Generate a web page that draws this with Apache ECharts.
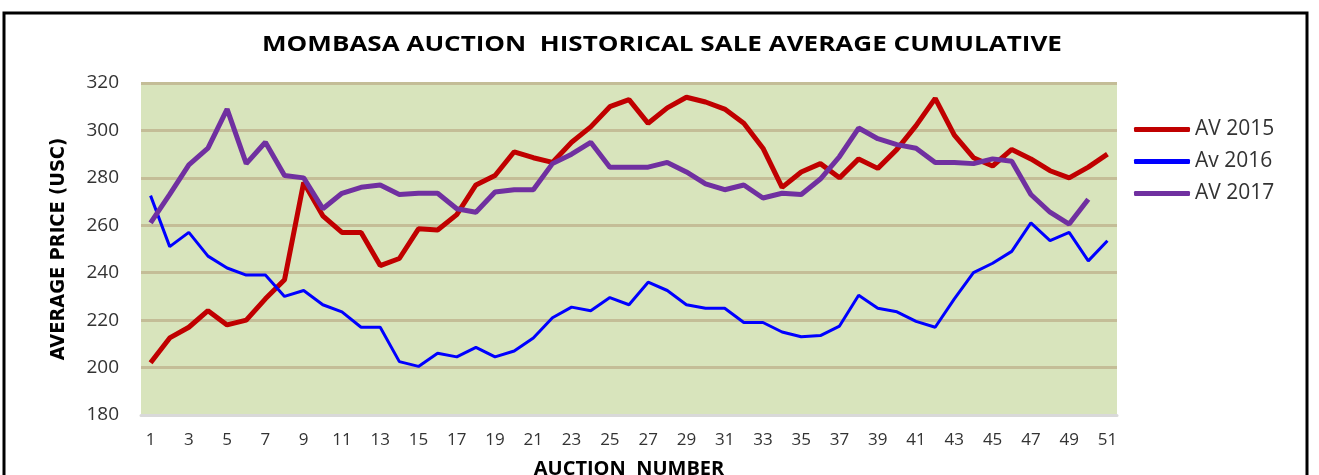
<!DOCTYPE html>
<html>
<head>
<meta charset="utf-8">
<script src="https://cdn.jsdelivr.net/npm/echarts@6/dist/echarts.min.js"></script>
<style>
  html, body { margin: 0; padding: 0; background: #fff; }
  #chart { width: 1319px; height: 475px; }
</style>
</head>
<body>
<div id="chart"></div>
<script>
// auction numbers 1..51
const auctions = ['1','2','3','4','5','6','7','8','9','10','11','12','13','14','15','16','17','18','19','20',
    '21','22','23','24','25','26','27','28','29','30','31','32','33','34','35','36','37','38','39','40',
    '41','42','43','44','45','46','47','48','49','50','51'];

const av2015 = [202, 212.5, 217, 224, 218, 220, 229, 237, 278, 264, 257, 257, 243, 246, 258.5, 258, 264.5, 277, 281, 291,
    288.5, 286.5, 295, 301.5, 310, 313, 303, 309.5, 314, 312, 309, 303, 292.5, 276, 282.5, 286, 280, 288, 284, 292,
    302, 313.5, 298, 288.5, 285, 292, 288, 283, 280, 284.5, 290];

const av2016 = [272.5, 251, 257, 247, 242, 239, 239, 230, 232.5, 226.5, 223.5, 217, 217, 202.5, 200.5, 206, 204.5, 208.5, 204.5, 207,
    212.5, 221, 225.5, 224, 229.5, 226.5, 236, 232.5, 226.5, 225, 225, 219, 219, 215, 213, 213.5, 217.5, 230.5, 225, 223.5,
    219.5, 217, 229, 240, 244, 249, 261, 253.5, 257, 245, 253.5];

const av2017 = [261, 273, 285.5, 292.5, 309, 286, 295, 281, 280, 267, 273.5, 276, 277, 273, 273.5, 273.5, 267, 265.5, 274, 275,
    275, 286, 290, 295, 284.5, 284.5, 284.5, 286.5, 282.5, 277.5, 275, 277, 271.5, 273.5, 273, 279.5, 289, 301, 296.5, 294,
    292.5, 286.5, 286.5, 286, 288, 287, 273, 265.5, 260.5, 271];

const yTicks = { min: 180, max: 320, step: 20 };

function renderGrafico() {
    const chartDom = document.getElementById('chart');
    const myChart = echarts.init(chartDom, null, { renderer: 'canvas' });
    const option = {
        backgroundColor: '#ffffff',
        animation: false,
        legend: {
            orient: 'vertical',
            left: 1129,
            top: 114,
            itemWidth: 56,
            itemHeight: 5,
            itemGap: 11,
            icon: 'roundRect',
            data: ['AV 2015', 'Av 2016', 'AV 2017'],
            textStyle: { fontFamily: 'Open Sans', fontSize: 21, color: '#333', padding: [0, 0, 0, 0] }
        },
        grid: {
            left: 141,
            right: 202,
            top: 83,
            bottom: 60,
            outerBoundsMode: 'none',
            show: true,
            backgroundColor: '#d8e4bc',
            borderWidth: 0
        },
        xAxis: {
            type: 'category',
            data: auctions,
            boundaryGap: true,
            name: 'AUCTION  NUMBER',
            nameLocation: 'middle',
            nameGap: 44,
            nameTextStyle: { fontFamily: 'Open Sans', fontWeight: 'bold', fontSize: 20, color: '#000' },
            axisLine: { lineStyle: { color: '#d9d9d9', width: 3 } },
            axisTick: { show: false },
            axisLabel: { interval: 1, margin: 17, fontFamily: 'Open Sans', fontSize: 17, color: '#333' },
            splitLine: { show: false }
        },
        yAxis: {
            type: 'value',
            min: yTicks.min,
            max: yTicks.max,
            interval: yTicks.step,
            name: 'AVERAGE PRICE (USC)',
            nameLocation: 'middle',
            nameGap: 72,
            nameTextStyle: { fontFamily: "'Liberation Sans Narrow', 'DejaVu Sans Condensed', 'Open Sans', sans-serif", fontWeight: 'bold', fontSize: 20, color: '#000' },
            axisLine: { show: false },
            axisTick: { show: false },
            axisLabel: { margin: 22, fontFamily: 'Open Sans', fontSize: 19, color: '#333' },
            splitLine: { lineStyle: { color: '#c4bd97', width: 3 } }
        },
        series: [
            {
                name: 'AV 2015',
                type: 'line',
                data: av2015,
                symbol: 'none',
                lineStyle: { color: '#c00000', width: 5 },
                itemStyle: { color: '#c00000' },
                z: 3
            },
            {
                name: 'Av 2016',
                type: 'line',
                data: av2016,
                symbol: 'none',
                lineStyle: { color: '#0000ff', width: 3 },
                itemStyle: { color: '#0000ff' },
                z: 4
            },
            {
                name: 'AV 2017',
                type: 'line',
                data: av2017,
                symbol: 'none',
                lineStyle: { color: '#7030a0', width: 5 },
                itemStyle: { color: '#7030a0' },
                z: 5
            }
        ],
        graphic: [
            {
                // titulo largo, esticado na horizontal como no original
                type: 'text',
                x: 662,
                y: 45,
                scaleX: 1.24,
                style: {
                    text: 'MOMBASA AUCTION  HISTORICAL SALE AVERAGE CUMULATIVE',
                    font: 'bold 21px "Open Sans"',
                    fill: '#000',
                    align: 'center',
                    verticalAlign: 'middle'
                },
                silent: true
            },
            {
                type: 'rect',
                shape: { x: 4, y: 13, width: 1303, height: 480 },
                style: { fill: 'none', stroke: '#000', lineWidth: 3 },
                silent: true
            }
        ]
    };
    myChart.setOption(option);
}

document.addEventListener('DOMContentLoaded', renderGrafico);
</script>
</body>
</html>
